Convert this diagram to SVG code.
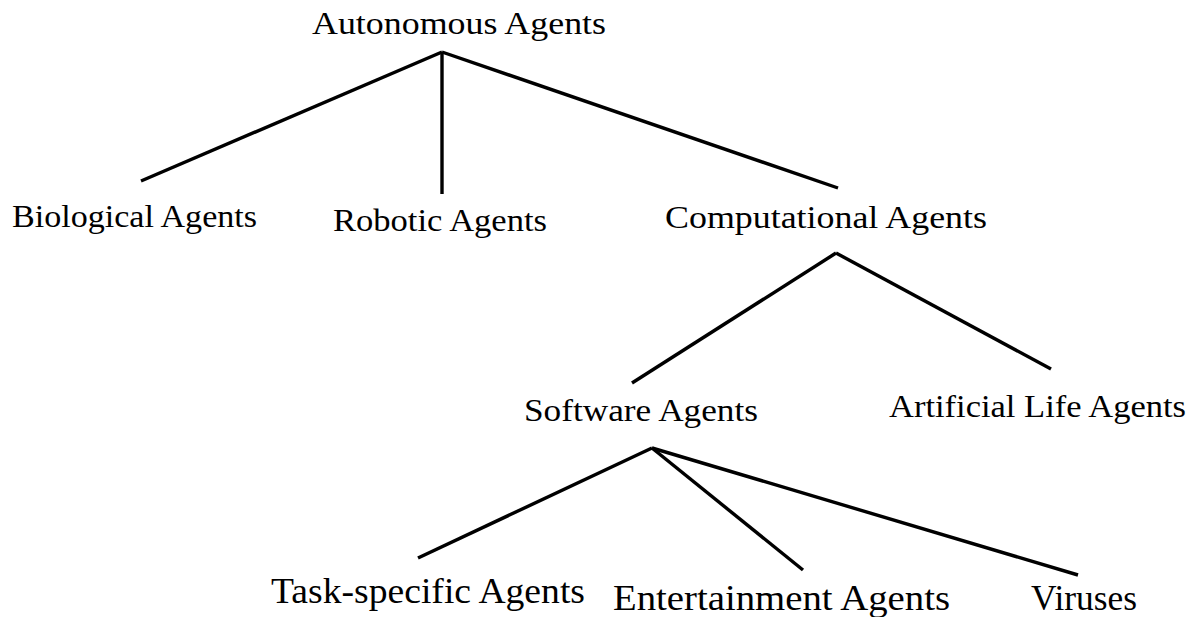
<svg xmlns="http://www.w3.org/2000/svg" width="1199" height="617" viewBox="0 0 1199 617">
<style>
.t{font-family:"Liberation Serif","DejaVu Serif",serif;font-size:32px;fill:#000}
.b{font-size:36px}
.c line{stroke:#000;stroke-width:3.4;stroke-linecap:butt}
</style>
<rect width="1199" height="617" fill="#fff"/>
<g class="c" id="connectors">
<line x1="442" y1="52" x2="141" y2="181"/>
<line x1="442" y1="52" x2="442" y2="194"/>
<line x1="442" y1="52" x2="838" y2="188"/>
<line x1="836" y1="253" x2="632" y2="383"/>
<line x1="836" y1="253" x2="1051" y2="369"/>
<line x1="652" y1="448" x2="418" y2="558"/>
<line x1="652" y1="448" x2="803" y2="570"/>
<line x1="652" y1="448" x2="1078" y2="575"/>
</g>
<g id="n-autonomous"><text class="t" x="312" y="34" textLength="294" lengthAdjust="spacingAndGlyphs">Autonomous Agents</text></g>
<g id="n-biological"><text class="t" x="12" y="227" textLength="245" lengthAdjust="spacingAndGlyphs">Biological Agents</text></g>
<g id="n-robotic"><text class="t" x="333" y="231" textLength="214" lengthAdjust="spacingAndGlyphs">Robotic Agents</text></g>
<g id="n-computational"><text class="t" x="665" y="228" textLength="322" lengthAdjust="spacingAndGlyphs">Computational Agents</text></g>
<g id="n-software"><text class="t" x="524" y="421" textLength="234" lengthAdjust="spacingAndGlyphs">Software Agents</text></g>
<g id="n-alife"><text class="t" x="889" y="417" textLength="297" lengthAdjust="spacingAndGlyphs">Artificial Life Agents</text></g>
<g id="n-task"><text class="t b" x="271" y="603" textLength="314" lengthAdjust="spacingAndGlyphs">Task-specific Agents</text></g>
<g id="n-entertainment"><text class="t b" x="613" y="610" textLength="337" lengthAdjust="spacingAndGlyphs">Entertainment Agents</text></g>
<g id="n-viruses"><text class="t b" x="1031" y="610" textLength="106" lengthAdjust="spacingAndGlyphs">Viruses</text></g>
</svg>
